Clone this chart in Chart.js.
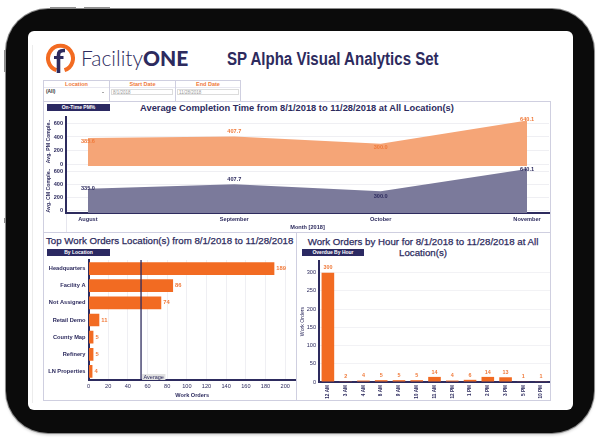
<!DOCTYPE html>
<html>
<head>
<meta charset="utf-8">
<script src="https://cdn.jsdelivr.net/npm/chart.js@4.4.1/dist/chart.umd.min.js"></script>
<style>
  html, body { margin: 0; padding: 0; background: #fff; }
  body { width: 600px; height: 446px; position: relative; overflow: hidden;
         font-family: "Liberation Sans", Arial, sans-serif; color: #2d2b5e; }
  .abs { position: absolute; }
  #tablet { left: 6px; top: 9px; width: 588px; height: 424px; background: #0b0b0b;
            border-radius: 42px; box-shadow: 0 0 0 1px #8c8c8c, 0 2px 3px rgba(0,0,0,.2); }
  #screen { left: 28px; top: 31px; width: 545px; height: 379px; background: #fff; border-radius: 6px; }
  .knob { background: #8f8f8f; }
  .panel { border: 1px solid #cfcfe0; box-sizing: border-box; }
  .btn { background: #2b2962; color: #fff; font-size: 5px; font-weight: bold; text-align: center;
         line-height: 7px; height: 7px; white-space: nowrap; }
  .vline { width: 1px; background: #cfcfe0; }
  .hdr { color: #f07a3a; font-size: 5.5px; font-weight: bold; text-align: center; line-height: 6px; }
  .inp { border: 1px solid #dcdcdc; box-sizing: border-box; height: 6px; font-size: 4.5px;
         line-height: 5px; color: #999; padding-left: 1px; background: #fff; }
  .ttl { font-weight: bold; white-space: nowrap; color: #2d2b5e; }
  canvas { position: absolute; }
</style>
</head>
<body>
<div class="abs knob" style="left:50px;top:7px;width:26px;height:2px"></div>
<div class="abs knob" style="left:84px;top:7px;width:26px;height:2px"></div>
<div class="abs knob" style="left:4px;top:50px;width:2px;height:22px"></div>
<div class="abs knob" style="left:4px;top:218px;width:2px;height:5px"></div>
<div id="tablet" class="abs"></div>
<div id="screen" class="abs"></div>
<div class="abs" style="left:32px;top:45px;width:1px;height:358px;background:#ececec"></div>

<!-- logo -->
<svg class="abs" style="left:44px;top:42px" width="32" height="32" viewBox="0 0 32 32">
  <path d="M 12.5 28.2 A 12.5 12.5 0 1 1 20.5 28.2" fill="none" stroke="#f26b22" stroke-width="4"/>
  <path d="M 14.5 31 L 14.5 13 Q 14.5 8.5 19.5 8.5 L 21 8.5" fill="none" stroke="#2d2b5e" stroke-width="3.6"/>
  <path d="M 10 15.5 L 19.5 15.5" fill="none" stroke="#2d2b5e" stroke-width="3"/>
</svg>
<div class="abs" style="left:81px;top:47px;font-family:Lato,'Open Sans',sans-serif;font-size:21px;line-height:21px;color:#2d2b5e;white-space:nowrap">
  <span style="font-weight:300">Facility</span><span style="font-weight:900">ONE</span>
</div>
<div class="abs ttl" style="left:227px;top:51px;font-size:17.5px;line-height:17.5px;transform:scaleX(0.86);transform-origin:0 0">SP Alpha Visual Analytics Set</div>

<!-- filters -->
<div class="abs panel" style="left:43px;top:80px;width:198px;height:22px"></div>
<div class="abs vline" style="left:109px;top:80px;height:21px"></div>
<div class="abs vline" style="left:175px;top:80px;height:21px"></div>
<div class="abs hdr" style="left:44px;top:81px;width:65px">Location</div>
<div class="abs hdr" style="left:110px;top:81px;width:65px">Start Date</div>
<div class="abs hdr" style="left:176px;top:81px;width:64px">End Date</div>
<div class="abs" style="left:44px;top:87px;width:65px;height:1px;background:#e8e8f0"></div>
<div class="abs" style="left:110px;top:87px;width:65px;height:1px;background:#e8e8f0"></div>
<div class="abs" style="left:176px;top:87px;width:64px;height:1px;background:#e8e8f0"></div>
<div class="abs" style="left:46px;top:89px;font-size:4.8px;font-weight:bold;color:#333;line-height:6px">(All)</div>
<div class="abs" style="left:102px;top:91.5px;width:0;height:0;border-left:1.3px solid transparent;border-right:1.3px solid transparent;border-top:1.6px solid #555"></div>
<div class="abs inp" style="left:111px;top:89px;width:62px">8/1/2018</div>
<div class="abs inp" style="left:177px;top:89px;width:62px">11/28/2018</div>

<!-- panels -->
<div class="abs panel" style="left:43px;top:101px;width:508px;height:132px"></div>
<div class="abs panel" style="left:43px;top:232px;width:254px;height:169px"></div>
<div class="abs panel" style="left:296px;top:232px;width:255px;height:169px"></div>
<div class="abs" style="left:66px;top:213px;width:1px;height:19px;background:#e6e6ee"></div>

<div class="abs btn" style="left:47px;top:104px;width:63px">On-Time PM%</div>
<div class="abs ttl" style="left:120px;top:103px;width:354px;text-align:center;font-size:9.3px;line-height:10px">Average Completion Time from 8/1/2018 to 11/28/2018 at All Location(s)</div>

<div class="abs ttl" style="left:46px;top:235.5px;font-size:9.7px;line-height:10px;font-weight:normal;-webkit-text-stroke:0.25px #2d2b5e">Top Work Orders Location(s) from 8/1/2018 to 11/28/2018</div>
<div class="abs btn" style="left:47px;top:249px;width:63px">By Location</div>

<div class="abs ttl" style="left:296px;top:235.5px;width:254px;text-align:center;font-size:9.7px;line-height:11.5px;font-weight:normal;-webkit-text-stroke:0.25px #2d2b5e">Work Orders by Hour for 8/1/2018 to 11/28/2018 at All<br>Location(s)</div>
<div class="abs btn" style="left:302px;top:249px;width:62px">Overdue By Hour</div>

<canvas id="pmChart" width="506" height="53" style="left:44px;top:114px"></canvas>
<canvas id="cmChart" width="506" height="65" style="left:44px;top:167px"></canvas>
<canvas id="locChart" width="252" height="142" style="left:44px;top:258px"></canvas>
<canvas id="hourChart" width="254" height="142" style="left:296px;top:258px"></canvas>

<script>
// ---- data ----
var months = ['August', 'September', 'October', 'November'];
var pmAvg = [385.6, 407.7, 300.0, 640.1];
var cmAvg = [335.0, 407.7, 300.0, 640.1];
var areaTicks = [0, 200, 400, 600];

var locations = ['Headquarters', 'Facility A', 'Not Assigned', 'Retail Demo', 'County Map', 'Refinery', 'LN Properties'];
var locationCounts = [189, 86, 74, 11, 5, 5, 4];
var locationTicks = [0, 20, 40, 60, 80, 100, 120, 140, 160, 180, 200];

var hours = ['12 AM', '3 AM', '4 AM', '8 AM', '9 AM', '10 AM', '11 AM', '12 PM', '1 PM', '2 PM', '3 PM', '5 PM', '10 PM'];
var hourCounts = [300, 2, 4, 5, 5, 5, 14, 4, 6, 14, 13, 1, 1];
var hourTicks = [0, 50, 100, 150, 200, 250, 300];

var navy = '#2d2b5e';
var orange = '#f26b22';
var orangeText = '#f07a3a';

Chart.defaults.font.family = '"Liberation Sans", Arial, sans-serif';
Chart.defaults.color = navy;
Chart.defaults.animation = false;

// fixed axis size, and no extra room reserved for overhanging tick labels
function fixSize(w, h) {
    return function(s) {
        if (w !== null) s.width = w;
        if (h !== null) s.height = h;
        s.paddingTop = s.paddingBottom = s.paddingLeft = s.paddingRight = 0;
    };
}

// draws the numbers next to bars / points
var valueLabels = {
    id: 'valueLabels',
    afterDatasetsDraw: function(chart, args, opts) {
        var ctx = chart.ctx;
        ctx.save();
        ctx.font = opts.font;
        ctx.fillStyle = opts.color;
        chart.data.datasets.forEach(function(ds, di) {
            chart.getDatasetMeta(di).data.forEach(function(el, i) {
                var raw = ds.data[i];
                var v = (typeof raw === 'object') ? raw.y : raw;
                var txt = v.toFixed(opts.decimals || 0);
                var x = el.x, y = el.y;
                if (opts.position === 'right') {
                    ctx.textAlign = 'left'; ctx.textBaseline = 'middle';
                    x += opts.gap;
                } else if (opts.position === 'top') {
                    ctx.textAlign = 'center'; ctx.textBaseline = 'bottom';
                    y -= opts.gap;
                } else {
                    ctx.textAlign = 'center'; ctx.textBaseline = 'middle';
                    y += (opts.offsets || [])[i] || 0;
                }
                ctx.fillText(txt, x, y);
            });
        });
        ctx.restore();
    }
};

// vertical reference line at the mean
var averageLine = {
    id: 'averageLine',
    afterDatasetsDraw: function(chart) {
        var data = chart.data.datasets[0].data;
        var avg = data.reduce(function(a, b) { return a + b; }, 0) / data.length;
        var x = chart.scales.x.getPixelForValue(avg);
        var area = chart.chartArea;
        var ctx = chart.ctx;
        ctx.save();
        ctx.font = '5.5px "Liberation Sans", Arial, sans-serif';
        var w = ctx.measureText('Average').width;
        ctx.fillStyle = '#e2e2e2';
        ctx.fillRect(x + 1, area.bottom - 6, w + 3, 6);
        ctx.fillStyle = navy;
        ctx.textBaseline = 'middle';
        ctx.fillText('Average', x + 2.5, area.bottom - 3);
        ctx.strokeStyle = navy;
        ctx.lineWidth = 1.3;
        ctx.beginPath();
        ctx.moveTo(x, area.top);
        ctx.lineTo(x, area.bottom);
        ctx.stroke();
        ctx.restore();
    }
};

function areaChart(id, values, color, labelColor, offsets, yTitle, yMin, yMax, showX) {
    return new Chart(document.getElementById(id), {
        type: 'line',
        data: {
            datasets: [{
                data: values.map(function(v, i) { return {x: i, y: v}; }),
                fill: 'start',
                backgroundColor: color,
                borderWidth: 0,
                pointRadius: 0,
                tension: 0
            }]
        },
        plugins: [valueLabels],
        options: {
            responsive: false,
            layout: {autoPadding: false,
                     padding: showX ? {top: 1, right: 1, bottom: 0, left: 0} : {top: 3, right: 1, bottom: 1, left: 0}},
            plugins: {
                legend: {display: false},
                tooltip: {enabled: false},
                valueLabels: {font: 'bold 5.6px "Liberation Sans", Arial, sans-serif', color: labelColor,
                              decimals: 1, offsets: offsets}
            },
            scales: {
                x: {
                    type: 'linear', min: -0.15, max: 3.15, display: showX,
                    afterBuildTicks: function(s) { s.ticks = months.map(function(m, i) { return {value: i}; }); },
                    afterFit: fixSize(null, showX ? 19 : 0),
                    grid: {display: false, drawTicks: false},
                    border: {color: navy, width: 2},
                    ticks: {padding: 3, maxRotation: 0, autoSkip: false,
                            font: {size: 5.6, weight: 'bold'},
                            callback: function(v) { return months[v]; }},
                    title: {display: true, text: 'Month [2018]', font: {size: 5.6, weight: 'bold'}, padding: {top: 0, bottom: 1}}
                },
                y: {
                    min: yMin, max: yMax,
                    afterBuildTicks: function(s) { s.ticks = areaTicks.map(function(v) { return {value: v}; }); },
                    afterFit: fixSize(22, null),
                    grid: {color: '#efeff3', drawTicks: false},
                    border: {color: navy, width: 2},
                    ticks: {padding: 3, autoSkip: false, font: {size: 5.6, weight: 'bold'}},
                    title: {display: true, text: yTitle, font: {size: 5.2, weight: 'bold'}, padding: {top: 1.5, bottom: 0}}
                }
            }
        }
    });
}

areaChart('pmChart', pmAvg, '#f5a577', orangeText, [4, -5, 4, -1], 'Avg. PM Comple..', -22, 690, false);
areaChart('cmChart', cmAvg, '#7b7a9b', navy, [0, -5, 5, 0], 'Avg. CM Comple..', -35, 655, true);

// top locations
new Chart(document.getElementById('locChart'), {
    type: 'bar',
    data: {
        labels: locations,
        datasets: [{data: locationCounts, backgroundColor: orange, barPercentage: 0.74, categoryPercentage: 1}]
    },
    plugins: [averageLine, valueLabels],
    options: {
        responsive: false,
        indexAxis: 'y',
        layout: {autoPadding: false, padding: {top: 2, right: 0, bottom: 0, left: 0}},
        plugins: {
            legend: {display: false},
            tooltip: {enabled: false},
            valueLabels: {font: 'bold 5.8px "Liberation Sans", Arial, sans-serif', color: orangeText,
                          position: 'right', gap: 2}
        },
        scales: {
            x: {
                min: 0, max: 211,
                afterBuildTicks: function(s) { s.ticks = locationTicks.map(function(v) { return {value: v}; }); },
                afterFit: fixSize(null, 20),
                grid: {color: '#efeff3', drawTicks: false},
                border: {color: navy, width: 2},
                ticks: {padding: 3, maxRotation: 0, autoSkip: false, font: {size: 5.6}},
                title: {display: true, text: 'Work Orders', font: {size: 5.6, weight: 'bold'}, padding: {top: 0, bottom: 1.5}}
            },
            y: {
                afterFit: fixSize(44.5, null),
                grid: {display: false, drawTicks: false},
                border: {color: navy, width: 2},
                ticks: {padding: 3, autoSkip: false, font: {size: 5.7, weight: 'bold'}}
            }
        }
    }
});

// work orders by hour
new Chart(document.getElementById('hourChart'), {
    type: 'bar',
    data: {
        labels: hours,
        datasets: [{data: hourCounts, backgroundColor: orange, barPercentage: 0.71, categoryPercentage: 1}]
    },
    plugins: [valueLabels],
    options: {
        responsive: false,
        layout: {autoPadding: false, padding: {top: 3, right: 0, bottom: 0, left: 0}},
        plugins: {
            legend: {display: false},
            tooltip: {enabled: false},
            valueLabels: {font: 'bold 5.4px "Liberation Sans", Arial, sans-serif', color: orangeText,
                          position: 'top', gap: 2}
        },
        scales: {
            x: {
                afterFit: fixSize(null, 18),
                grid: {display: false, drawTicks: false},
                border: {color: navy, width: 2},
                ticks: {padding: 3, minRotation: 90, maxRotation: 90, autoSkip: false,
                        font: {size: 4.7, weight: 'bold'}}
            },
            y: {
                min: 0, max: 332,
                afterBuildTicks: function(s) { s.ticks = hourTicks.map(function(v) { return {value: v}; }); },
                afterFit: fixSize(23, null),
                grid: {color: '#f2f2f5', drawTicks: false},
                border: {color: navy, width: 2},
                ticks: {padding: 3, autoSkip: false, font: {size: 5.6}},
                title: {display: true, text: 'Work Orders', font: {size: 5.2}, padding: {top: 3, bottom: 0}}
            }
        }
    }
});
</script>
</body>
</html>
